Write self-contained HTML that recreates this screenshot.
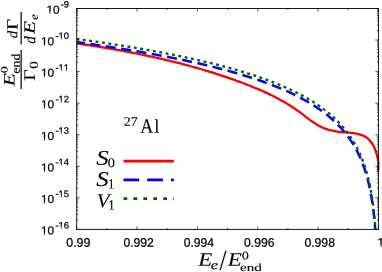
<!DOCTYPE html>
<html><head><meta charset="utf-8"><title>plot</title>
<style>
html,body{margin:0;padding:0;background:#fff;}
body{width:382px;height:272px;overflow:hidden;}
svg{display:block;}
text{font-size:50px;fill:#000;vector-effect:non-scaling-stroke;}
.sa{font-family:"Liberation Sans",sans-serif;font-kerning:none;stroke:#000;stroke-width:0.25;}
.se{font-family:"Liberation Serif",serif;stroke:#000;stroke-width:0.12;}
.it{font-style:italic;}
</style></head><body>
<svg width="382" height="272" viewBox="0 0 382 272">
<defs><filter id="bl" x="0" y="0" width="382" height="272" filterUnits="userSpaceOnUse"><feGaussianBlur stdDeviation="0.4"/></filter></defs>
<rect width="382" height="272" fill="#fff"/>
<g filter="url(#bl)">
<rect width="382" height="272" fill="#fff"/>
<g fill="none" stroke-linejoin="round">
<path d="M76.9,43.4 L78.5,43.6 L80.1,43.8 L81.6,44.1 L83.2,44.3 L84.7,44.5 L86.3,44.8 L87.8,45.0 L89.4,45.2 L91.0,45.5 L92.5,45.7 L94.1,46.0 L95.6,46.2 L97.2,46.5 L98.8,46.7 L100.3,47.0 L101.9,47.2 L103.4,47.5 L105.0,47.7 L106.5,48.0 L108.1,48.3 L109.7,48.5 L111.2,48.8 L112.8,49.1 L114.3,49.3 L115.9,49.6 L117.4,49.9 L119.0,50.2 L120.6,50.5 L122.1,50.7 L123.7,51.0 L125.2,51.3 L126.8,51.6 L128.3,51.9 L129.9,52.2 L131.4,52.5 L133.0,52.8 L134.5,53.1 L136.1,53.4 L137.7,53.7 L139.2,54.0 L140.8,54.4 L142.3,54.7 L143.9,55.0 L145.4,55.3 L147.0,55.6 L148.5,56.0 L150.1,56.3 L151.6,56.6 L153.1,57.0 L154.7,57.3 L156.2,57.7 L157.8,58.0 L159.3,58.4 L160.9,58.7 L162.4,59.1 L164.0,59.4 L165.5,59.8 L167.0,60.2 L168.6,60.5 L170.1,60.9 L171.6,61.3 L173.2,61.7 L174.7,62.0 L176.3,62.4 L177.8,62.8 L179.3,63.2 L180.9,63.6 L182.4,64.0 L183.9,64.4 L185.4,64.8 L187.0,65.2 L188.5,65.6 L190.0,66.0 L191.6,66.5 L193.1,66.9 L194.6,67.3 L196.1,67.7 L197.6,68.2 L199.2,68.6 L200.7,69.0 L202.2,69.5 L203.7,69.9 L205.2,70.4 L206.7,70.8 L208.3,71.3 L209.8,71.8 L211.3,72.2 L212.8,72.7 L214.3,73.2 L215.8,73.7 L217.3,74.1 L218.8,74.6 L220.3,75.1 L221.8,75.6 L223.3,76.1 L224.8,76.6 L226.3,77.1 L227.8,77.6 L229.3,78.1 L230.8,78.7 L232.3,79.2 L233.8,79.7 L235.2,80.2 L236.7,80.8 L238.2,81.3 L239.7,81.9 L241.2,82.4 L242.7,83.0 L244.1,83.5 L245.6,84.1 L247.1,84.6 L248.5,85.2 L250.0,85.8 L251.5,86.4 L252.9,87.0 L254.4,87.6 L255.9,88.2 L257.3,88.8 L258.8,89.4 L260.2,90.0 L261.7,90.7 L263.1,91.3 L264.5,91.9 L266.0,92.6 L267.4,93.3 L268.8,93.9 L270.2,94.6 L271.7,95.3 L273.1,96.0 L274.5,96.7 L275.9,97.4 L277.3,98.2 L278.7,98.9 L280.1,99.7 L281.4,100.4 L282.8,101.2 L284.2,102.0 L285.5,102.8 L286.9,103.6 L288.3,104.4 L289.6,105.3 L290.9,106.1 L292.3,107.0 L293.6,107.9 L294.9,108.7 L296.2,109.7 L297.5,110.6 L298.8,111.5 L300.1,112.4 L301.4,113.4 L302.7,114.4 L304.0,115.4 L305.2,116.3 L306.5,117.3 L307.8,118.3 L309.1,119.3 L310.3,120.2 L311.6,121.1 L312.9,122.0 L314.2,122.9 L315.6,123.8 L316.9,124.6 L318.3,125.4 L319.6,126.1 L321.0,126.8 L322.4,127.5 L323.9,128.1 L325.3,128.6 L326.8,129.1 L328.3,129.6 L329.8,130.0 L331.3,130.4 L332.9,130.7 L334.4,131.0 L336.0,131.3 L337.6,131.6 L339.2,131.8 L340.8,132.0 L342.4,132.1 L344.0,132.3 L345.6,132.4 L347.2,132.5 L348.8,132.7 L350.4,132.8 L352.0,133.0 L353.6,133.2 L355.1,133.4 L356.6,133.6 L358.1,134.0 L359.6,134.3 L361.0,134.8 L362.4,135.3 L363.7,135.9 L365.0,136.5 L366.2,137.3 L367.4,138.2 L368.5,139.2 L369.6,140.2 L370.6,141.4 L371.5,142.7 L372.4,144.0 L373.2,145.4 L374.0,146.8 L374.7,148.3 L375.3,149.9 L375.9,151.5 L376.4,153.1 L376.9,154.7 L377.3,156.4 L377.6,158.0 L377.9,159.7 L378.1,161.3 L378.3,162.9 L378.3,164.5 L378.3,166.0 L378.3,167.5 L378.3,169.0 L378.1,170.4 L377.9,171.7" stroke="#ff0000" stroke-width="2.3"/>
<path d="M77.00,42.19 L79.13,42.48 L81.25,42.78 L83.38,43.07 L85.50,43.37 L87.63,43.67 L89.76,43.97 L91.88,44.27 L94.01,44.58 L96.13,44.89 L98.26,45.20 L100.39,45.51 L102.51,45.83 L104.64,46.15 L106.76,46.47 L108.89,46.79 L111.02,47.11 L113.14,47.44 L115.27,47.77 L117.39,48.11 L119.52,48.44 L121.65,48.78 L123.77,49.12 L125.90,49.47 L128.03,49.82 L130.15,50.17 L132.28,50.52 L134.40,50.88 L136.53,51.24 L138.66,51.60 L140.78,51.97 L142.91,52.34 L145.03,52.71 L147.16,53.09 L149.29,53.47 L151.41,53.85 L153.54,54.24 L155.66,54.63 L157.79,55.02 L159.92,55.42 L162.04,55.82 L164.17,56.23 L166.29,56.64 L168.42,57.05 L170.55,57.47 L172.67,57.89 L174.80,58.32 L176.92,58.75 L179.05,59.19 L181.18,59.63 L183.30,60.07 L185.43,60.52 L187.55,60.98 L189.68,61.44 L191.81,61.91 L193.93,62.38 L196.06,62.85 L198.18,63.34 L200.31,63.82 L202.44,64.32 L204.56,64.82 L206.69,65.32 L208.82,65.84 L210.94,66.35 L213.07,66.88 L215.19,67.41 L217.32,67.95 L219.45,68.50 L221.57,69.05 L223.70,69.61 L225.82,70.18 L227.95,70.76 L230.08,71.34 L232.20,71.94 L234.33,72.54 L236.45,73.15 L238.58,73.77 L240.71,74.40 L242.83,75.04 L244.96,75.69 L247.08,76.35 L249.21,77.02 L251.34,77.70 L253.46,78.40 L255.59,79.10 L257.71,79.82 L259.84,80.55 L261.97,81.30 L264.09,82.05 L266.22,82.83 L268.34,83.61 L270.47,84.41 L272.60,85.23 L274.72,86.07 L276.85,86.92 L278.97,87.79 L281.10,88.68 L283.23,89.59 L285.35,90.52 L287.48,91.47 L289.61,92.44 L291.73,93.43 L293.86,94.46 L295.98,95.50 L298.11,96.58 L300.24,97.68 L302.36,98.81 L304.49,99.98 L306.61,101.18 L308.74,102.42 L310.87,103.69 L312.99,105.01 L315.12,106.36 L317.24,107.77 L319.37,109.22 L321.50,110.73 L323.62,112.30 L325.75,113.93 L327.87,115.62 L330.00,117.39 L330.50,117.82 L330.67,117.96 L330.85,118.11 L331.02,118.26 L331.19,118.41 L331.37,118.57 L331.54,118.72 L331.71,118.87 L331.89,119.02 L332.06,119.18 L332.23,119.33 L332.41,119.48 L332.58,119.64 L332.75,119.80 L332.93,119.95 L333.10,120.11 L333.27,120.27 L333.45,120.42 L333.62,120.58 L333.79,120.74 L333.97,120.90 L334.14,121.06 L334.31,121.23 L334.49,121.39 L334.66,121.55 L334.83,121.71 L335.01,121.88 L335.18,122.04 L335.35,122.21 L335.53,122.37 L335.70,122.54 L335.87,122.71 L336.05,122.87 L336.22,123.04 L336.39,123.21 L336.57,123.38 L336.74,123.55 L336.91,123.72 L337.09,123.90 L337.26,124.07 L337.43,124.24 L337.61,124.42 L337.78,124.59 L337.95,124.77 L338.12,124.94 L338.30,125.12 L338.47,125.30 L338.64,125.48 L338.82,125.66 L338.99,125.84 L339.16,126.02 L339.34,126.20 L339.51,126.38 L339.68,126.57 L339.86,126.75 L340.03,126.94 L340.20,127.12 L340.38,127.31 L340.55,127.50 L340.72,127.69 L340.90,127.88 L341.07,128.07 L341.24,128.26 L341.42,128.45 L341.59,128.64 L341.76,128.84 L341.94,129.03 L342.11,129.23 L342.28,129.43 L342.46,129.62 L342.63,129.82 L342.80,130.02 L342.98,130.22 L343.15,130.42 L343.32,130.63 L343.50,130.83 L343.67,131.03 L343.84,131.24 L344.02,131.45 L344.19,131.65 L344.36,131.86 L344.54,132.07 L344.71,132.28 L344.88,132.50 L345.06,132.71 L345.23,132.92 L345.40,133.14 L345.58,133.36 L345.75,133.57 L345.92,133.79 L346.10,134.01 L346.27,134.23 L346.44,134.46 L346.62,134.68 L346.79,134.90 L346.96,135.13 L347.14,135.36 L347.31,135.59 L347.48,135.82 L347.66,136.05 L347.83,136.28 L348.00,136.51 L348.18,136.75 L348.35,136.98 L348.52,137.22 L348.70,137.46 L348.87,137.70 L349.04,137.94 L349.22,138.19 L349.39,138.43 L349.56,138.68 L349.74,138.93 L349.91,139.18 L350.08,139.43 L350.26,139.68 L350.43,139.93 L350.60,140.19 L350.78,140.45 L350.95,140.70 L351.12,140.96 L351.30,141.23 L351.47,141.49 L351.64,141.76 L351.82,142.02 L351.99,142.29 L352.16,142.56 L352.33,142.83 L352.51,143.11 L352.68,143.39 L352.85,143.66 L353.03,143.94 L353.20,144.22 L353.37,144.51 L353.55,144.79 L353.72,145.08 L353.89,145.37 L354.07,145.66 L354.24,145.96 L354.41,146.25 L354.59,146.55 L354.76,146.85 L354.93,147.15 L355.11,147.46 L355.28,147.77 L355.45,148.08 L355.63,148.39 L355.80,148.70 L355.97,149.02 L356.15,149.34 L356.32,149.66 L356.49,149.98 L356.67,150.31 L356.84,150.64 L357.01,150.97 L357.19,151.30 L357.36,151.64 L357.53,151.98 L357.71,152.32 L357.88,152.67 L358.05,153.02 L358.23,153.37 L358.40,153.73 L358.57,154.08 L358.75,154.44 L358.92,154.81 L359.09,155.18 L359.27,155.55 L359.44,155.92 L359.61,156.30 L359.79,156.68 L359.96,157.06 L360.13,157.45 L360.31,157.84 L360.48,158.24 L360.65,158.64 L360.83,159.04 L361.00,159.45 L361.17,159.86 L361.35,160.28 L361.52,160.70 L361.69,161.12 L361.87,161.55 L362.04,161.98 L362.21,162.42 L362.39,162.86 L362.56,163.31 L362.73,163.76 L362.91,164.22 L363.08,164.68 L363.25,165.15 L363.43,165.62 L363.60,166.10 L363.77,166.59 L363.95,167.08 L364.12,167.57 L364.29,168.07 L364.47,168.58 L364.64,169.10 L364.81,169.62 L364.99,170.15 L365.16,170.68 L365.33,171.22 L365.51,171.77 L365.68,172.33 L365.85,172.89 L366.03,173.46 L366.20,174.04 L366.37,174.63 L366.55,175.23 L366.72,175.83 L366.89,176.45 L367.06,177.07 L367.24,177.70 L367.41,178.35 L367.58,179.00 L367.76,179.67 L367.93,180.34 L368.10,181.03 L368.28,181.72 L368.45,182.43 L368.62,183.16 L368.80,183.89 L368.97,184.64 L369.14,185.40 L369.32,186.18 L369.49,186.97 L369.66,187.78 L369.84,188.60 L370.01,189.45 L370.18,190.30 L370.36,191.18 L370.53,192.08 L370.70,192.99 L370.88,193.93 L371.05,194.89 L371.22,195.87 L371.40,196.87 L371.57,197.90 L371.74,198.96 L371.92,200.04 L372.09,201.16 L372.26,202.30 L372.44,203.48 L372.61,204.69 L372.78,205.94 L372.96,207.23 L373.13,208.56 L373.30,209.94 L373.48,211.36 L373.65,212.83 L373.82,214.36 L374.00,215.95 L374.17,217.60 L374.34,219.32 L374.52,221.11 L374.69,222.99 L374.86,224.96 L375.04,227.02 L375.19,229.00" stroke="#0000ff" stroke-width="2.5" stroke-dasharray="10.05 5.48" stroke-dashoffset="2"/>
<path d="M77.00,38.99 L79.13,39.28 L81.25,39.58 L83.38,39.87 L85.50,40.17 L87.63,40.47 L89.76,40.77 L91.88,41.07 L94.01,41.38 L96.13,41.69 L98.26,42.00 L100.39,42.31 L102.51,42.63 L104.64,42.95 L106.76,43.27 L108.89,43.59 L111.02,43.91 L113.14,44.24 L115.27,44.57 L117.39,44.91 L119.52,45.24 L121.65,45.58 L123.77,45.92 L125.90,46.27 L128.03,46.62 L130.15,46.97 L132.28,47.32 L134.40,47.68 L136.53,48.04 L138.66,48.40 L140.78,48.77 L142.91,49.14 L145.03,49.51 L147.16,49.89 L149.29,50.27 L151.41,50.65 L153.54,51.04 L155.66,51.43 L157.79,51.82 L159.92,52.22 L162.04,52.62 L164.17,53.03 L166.29,53.44 L168.42,53.85 L170.55,54.27 L172.67,54.69 L174.80,55.12 L176.92,55.55 L179.05,55.99 L181.18,56.43 L183.30,56.87 L185.43,57.32 L187.55,57.78 L189.68,58.24 L191.81,58.71 L193.93,59.18 L196.06,59.65 L198.18,60.14 L200.31,60.62 L202.44,61.12 L204.56,61.62 L206.69,62.12 L208.82,62.64 L210.94,63.15 L213.07,63.68 L215.19,64.21 L217.32,64.75 L219.45,65.30 L221.57,65.85 L223.70,66.41 L225.82,66.98 L227.95,67.56 L230.08,68.14 L232.20,68.74 L234.33,69.34 L236.45,69.95 L238.58,70.57 L240.71,71.20 L242.83,71.84 L244.96,72.49 L247.08,73.15 L249.21,73.82 L251.34,74.50 L253.46,75.20 L255.59,75.90 L257.71,76.62 L259.84,77.35 L261.97,78.10 L264.09,78.85 L266.22,79.63 L268.34,80.41 L270.47,81.21 L272.60,82.03 L274.72,82.87 L276.85,83.72 L278.97,84.59 L281.10,85.48 L283.23,86.39 L285.35,87.32 L287.48,88.27 L289.61,89.24 L291.73,90.23 L293.86,91.26 L295.98,92.30 L298.11,93.38 L300.24,94.48 L302.36,95.61 L304.49,96.78 L306.61,97.98 L308.74,99.22 L310.87,100.49 L312.99,101.81 L315.12,103.16 L317.24,104.57 L319.37,106.02 L321.50,107.53 L323.62,109.10 L325.75,110.73 L327.87,112.42 L330.00,114.19 L330.50,114.62 L330.67,114.76 L330.85,114.91 L331.02,115.06 L331.19,115.21 L331.37,115.37 L331.54,115.52 L331.71,115.67 L331.89,115.82 L332.06,115.98 L332.23,116.13 L332.41,116.28 L332.58,116.44 L332.75,116.60 L332.93,116.75 L333.10,116.91 L333.27,117.07 L333.45,117.22 L333.62,117.38 L333.79,117.54 L333.97,117.70 L334.14,117.86 L334.31,118.03 L334.49,118.19 L334.66,118.35 L334.83,118.51 L335.01,118.68 L335.18,118.84 L335.35,119.01 L335.53,119.17 L335.70,119.34 L335.87,119.51 L336.05,119.67 L336.22,119.84 L336.39,120.01 L336.57,120.18 L336.74,120.35 L336.91,120.52 L337.09,120.70 L337.26,120.87 L337.43,121.04 L337.61,121.22 L337.78,121.39 L337.95,121.57 L338.12,121.74 L338.30,121.92 L338.47,122.10 L338.64,122.28 L338.82,122.46 L338.99,122.64 L339.16,122.82 L339.34,123.00 L339.51,123.18 L339.68,123.37 L339.86,123.55 L340.03,123.74 L340.20,123.92 L340.38,124.11 L340.55,124.30 L340.72,124.49 L340.90,124.68 L341.07,124.87 L341.24,125.06 L341.42,125.25 L341.59,125.44 L341.76,125.64 L341.94,125.83 L342.11,126.03 L342.28,126.23 L342.46,126.42 L342.63,126.62 L342.80,126.82 L342.98,127.02 L343.15,127.22 L343.32,127.43 L343.50,127.63 L343.67,127.83 L343.84,128.04 L344.02,128.25 L344.19,128.45 L344.36,128.66 L344.54,128.87 L344.71,129.08 L344.88,129.30 L345.06,129.51 L345.23,129.72 L345.40,129.94 L345.58,130.16 L345.75,130.37 L345.92,130.59 L346.10,130.81 L346.27,131.03 L346.44,131.26 L346.62,131.48 L346.79,131.70 L346.96,131.93 L347.14,132.16 L347.31,132.39 L347.48,132.62 L347.66,132.85 L347.83,133.08 L348.00,133.31 L348.18,133.55 L348.35,133.78 L348.52,134.02 L348.70,134.26 L348.87,134.50 L349.04,134.74 L349.22,134.99 L349.39,135.23 L349.56,135.48 L349.74,135.73 L349.91,135.98 L350.08,136.23 L350.26,136.48 L350.43,136.73 L350.60,136.99 L350.78,137.25 L350.95,137.50 L351.12,137.76 L351.30,138.03 L351.47,138.29 L351.64,138.56 L351.82,138.82 L351.99,139.09 L352.16,139.36 L352.33,139.63 L352.51,139.91 L352.68,140.19 L352.85,140.46 L353.03,140.74 L353.20,141.02 L353.37,141.31 L353.55,141.59 L353.72,141.88 L353.89,142.17 L354.07,142.46 L354.24,142.76 L354.41,143.05 L354.59,143.35 L354.76,143.65 L354.93,143.95 L355.11,144.26 L355.28,144.57 L355.45,144.88 L355.63,145.19 L355.80,145.50 L355.97,145.82 L356.15,146.14 L356.32,146.46 L356.49,146.78 L356.67,147.11 L356.84,147.44 L357.01,147.77 L357.19,148.10 L357.36,148.44 L357.53,148.78 L357.71,149.12 L357.88,149.47 L358.05,149.82 L358.23,150.17 L358.40,150.53 L358.57,150.88 L358.75,151.24 L358.92,151.61 L359.09,151.98 L359.27,152.35 L359.44,152.72 L359.61,153.10 L359.79,153.48 L359.96,153.86 L360.13,154.25 L360.31,154.64 L360.48,155.04 L360.65,155.44 L360.83,155.84 L361.00,156.25 L361.17,156.66 L361.35,157.08 L361.52,157.50 L361.69,157.92 L361.87,158.35 L362.04,158.78 L362.21,159.22 L362.39,159.66 L362.56,160.11 L362.73,160.56 L362.91,161.02 L363.08,161.48 L363.25,161.95 L363.43,162.42 L363.60,162.90 L363.77,163.39 L363.95,163.88 L364.12,164.37 L364.29,164.87 L364.47,165.38 L364.64,165.90 L364.81,166.42 L364.99,166.95 L365.16,167.48 L365.33,168.02 L365.51,168.57 L365.68,169.13 L365.85,169.69 L366.03,170.26 L366.20,170.84 L366.37,171.43 L366.55,172.03 L366.72,172.63 L366.89,173.25 L367.06,173.87 L367.24,174.50 L367.41,175.15 L367.58,175.80 L367.76,176.47 L367.93,177.14 L368.10,177.83 L368.28,178.52 L368.45,179.23 L368.62,179.96 L368.80,180.69 L368.97,181.44 L369.14,182.20 L369.32,182.98 L369.49,183.77 L369.66,184.58 L369.84,185.40 L370.01,186.25 L370.18,187.10 L370.36,187.98 L370.53,188.88 L370.70,189.79 L370.88,190.73 L371.05,191.69 L371.22,192.67 L371.40,193.67 L371.57,194.70 L371.74,195.76 L371.92,196.84 L372.09,197.96 L372.26,199.10 L372.44,200.28 L372.61,201.49 L372.78,202.74 L372.96,204.03 L373.13,205.36 L373.30,206.74 L373.48,208.16 L373.65,209.63 L373.82,211.16 L374.00,212.75 L374.17,214.40 L374.34,216.12 L374.52,217.91 L374.69,219.79 L374.86,221.76 L375.04,223.82 L375.21,226.00 L375.38,228.29 L375.43,229.00" stroke="#006400" stroke-width="2.35" stroke-dasharray="2.9 3.56" stroke-dashoffset="0.65"/>
</g>
<rect x="76.7" y="8.5" width="301.7" height="220.9" fill="none" stroke="#000" stroke-width="0.9"/>
<path d="M76.70,8.50L79.70,8.50 M378.40,8.50L375.40,8.50 M76.70,30.56L78.20,30.56 M378.40,30.56L376.90,30.56 M76.70,25.00L78.20,25.00 M378.40,25.00L376.90,25.00 M76.70,21.06L78.20,21.06 M378.40,21.06L376.90,21.06 M76.70,18.00L78.20,18.00 M378.40,18.00L376.90,18.00 M76.70,15.50L78.20,15.50 M378.40,15.50L376.90,15.50 M76.70,13.39L78.20,13.39 M378.40,13.39L376.90,13.39 M76.70,11.56L78.20,11.56 M378.40,11.56L376.90,11.56 M76.70,9.94L78.20,9.94 M378.40,9.94L376.90,9.94 M76.70,40.06L79.70,40.06 M378.40,40.06L375.40,40.06 M76.70,62.11L78.20,62.11 M378.40,62.11L376.90,62.11 M76.70,56.56L78.20,56.56 M378.40,56.56L376.90,56.56 M76.70,52.61L78.20,52.61 M378.40,52.61L376.90,52.61 M76.70,49.56L78.20,49.56 M378.40,49.56L376.90,49.56 M76.70,47.06L78.20,47.06 M378.40,47.06L376.90,47.06 M76.70,44.95L78.20,44.95 M378.40,44.95L376.90,44.95 M76.70,43.12L78.20,43.12 M378.40,43.12L376.90,43.12 M76.70,41.50L78.20,41.50 M378.40,41.50L376.90,41.50 M76.70,71.61L79.70,71.61 M378.40,71.61L375.40,71.61 M76.70,93.67L78.20,93.67 M378.40,93.67L376.90,93.67 M76.70,88.11L78.20,88.11 M378.40,88.11L376.90,88.11 M76.70,84.17L78.20,84.17 M378.40,84.17L376.90,84.17 M76.70,81.11L78.20,81.11 M378.40,81.11L376.90,81.11 M76.70,78.62L78.20,78.62 M378.40,78.62L376.90,78.62 M76.70,76.50L78.20,76.50 M378.40,76.50L376.90,76.50 M76.70,74.67L78.20,74.67 M378.40,74.67L376.90,74.67 M76.70,73.06L78.20,73.06 M378.40,73.06L376.90,73.06 M76.70,103.17L79.70,103.17 M378.40,103.17L375.40,103.17 M76.70,125.23L78.20,125.23 M378.40,125.23L376.90,125.23 M76.70,119.67L78.20,119.67 M378.40,119.67L376.90,119.67 M76.70,115.73L78.20,115.73 M378.40,115.73L376.90,115.73 M76.70,112.67L78.20,112.67 M378.40,112.67L376.90,112.67 M76.70,110.17L78.20,110.17 M378.40,110.17L376.90,110.17 M76.70,108.06L78.20,108.06 M378.40,108.06L376.90,108.06 M76.70,106.23L78.20,106.23 M378.40,106.23L376.90,106.23 M76.70,104.62L78.20,104.62 M378.40,104.62L376.90,104.62 M76.70,134.73L79.70,134.73 M378.40,134.73L375.40,134.73 M76.70,156.79L78.20,156.79 M378.40,156.79L376.90,156.79 M76.70,151.23L78.20,151.23 M378.40,151.23L376.90,151.23 M76.70,147.29L78.20,147.29 M378.40,147.29L376.90,147.29 M76.70,144.23L78.20,144.23 M378.40,144.23L376.90,144.23 M76.70,141.73L78.20,141.73 M378.40,141.73L376.90,141.73 M76.70,139.62L78.20,139.62 M378.40,139.62L376.90,139.62 M76.70,137.79L78.20,137.79 M378.40,137.79L376.90,137.79 M76.70,136.17L78.20,136.17 M378.40,136.17L376.90,136.17 M76.70,166.29L79.70,166.29 M378.40,166.29L375.40,166.29 M76.70,188.34L78.20,188.34 M378.40,188.34L376.90,188.34 M76.70,182.79L78.20,182.79 M378.40,182.79L376.90,182.79 M76.70,178.84L78.20,178.84 M378.40,178.84L376.90,178.84 M76.70,175.79L78.20,175.79 M378.40,175.79L376.90,175.79 M76.70,173.29L78.20,173.29 M378.40,173.29L376.90,173.29 M76.70,171.17L78.20,171.17 M378.40,171.17L376.90,171.17 M76.70,169.34L78.20,169.34 M378.40,169.34L376.90,169.34 M76.70,167.73L78.20,167.73 M378.40,167.73L376.90,167.73 M76.70,197.84L79.70,197.84 M378.40,197.84L375.40,197.84 M76.70,219.90L78.20,219.90 M378.40,219.90L376.90,219.90 M76.70,214.34L78.20,214.34 M378.40,214.34L376.90,214.34 M76.70,210.40L78.20,210.40 M378.40,210.40L376.90,210.40 M76.70,207.34L78.20,207.34 M378.40,207.34L376.90,207.34 M76.70,204.84L78.20,204.84 M378.40,204.84L376.90,204.84 M76.70,202.73L78.20,202.73 M378.40,202.73L376.90,202.73 M76.70,200.90L78.20,200.90 M378.40,200.90L376.90,200.90 M76.70,199.29L78.20,199.29 M378.40,199.29L376.90,199.29 M76.70,229.40L79.70,229.40 M378.40,229.40L375.40,229.40 M76.70,229.40L76.70,226.40 M76.70,8.50L76.70,11.50 M106.87,229.40L106.87,227.90 M106.87,8.50L106.87,10.00 M137.04,229.40L137.04,226.40 M137.04,8.50L137.04,11.50 M167.21,229.40L167.21,227.90 M167.21,8.50L167.21,10.00 M197.38,229.40L197.38,226.40 M197.38,8.50L197.38,11.50 M227.55,229.40L227.55,227.90 M227.55,8.50L227.55,10.00 M257.72,229.40L257.72,226.40 M257.72,8.50L257.72,11.50 M287.89,229.40L287.89,227.90 M287.89,8.50L287.89,10.00 M318.06,229.40L318.06,226.40 M318.06,8.50L318.06,11.50 M348.23,229.40L348.23,227.90 M348.23,8.50L348.23,10.00 M378.40,229.40L378.40,226.40 M378.40,8.50L378.40,11.50" stroke="#000" stroke-width="0.65" fill="none"/>
<!-- legend samples -->
<path d="M123.5,161.1H173.8" stroke="#ff0000" stroke-width="2.6"/>
<path d="M123.5,179.9H173.8" stroke="#0000ff" stroke-width="2.8" stroke-dasharray="15.7 8"/>
<path d="M123.5,198.6H173.8" stroke="#006400" stroke-width="2.7" stroke-dasharray="3.8 6.13"/>
<!-- fraction bars of y label -->
<path d="M21.15,88.9V50.0M21.15,44.6V11.9" stroke="#000" stroke-width="1.2"/>
<g>
<text transform="matrix(0.2787,0.0004,0,0.2576,123.69,125.75)" class="se" stroke-width="0.3">27</text>
<text transform="matrix(0.3611,0.0004,0,0.4061,140.30,132.80)" class="se" stroke-width="0.2">A</text>
<text transform="matrix(0.3417,0.0004,0,0.3914,154.56,132.80)" class="se" stroke-width="0.2">l</text>
<text transform="matrix(0.4957,0.0004,0,0.4182,96.15,164.75)" class="se it" stroke="#fff" stroke-width="0.3">S</text>
<text transform="matrix(0.2881,0.0004,0,0.2652,107.85,167.07)" class="se" stroke-width="0.05">0</text>
<text transform="matrix(0.4957,0.0004,0,0.4212,96.15,185.95)" class="se it" stroke="#fff" stroke-width="0.3">S</text>
<text transform="matrix(0.2417,0.0004,0,0.2773,108.26,188.57)" class="se" stroke-width="0.05">1</text>
<text transform="matrix(0.4156,0.0004,0,0.3971,96.80,207.15)" class="se it" stroke="#fff" stroke-width="0.3">V</text>
<text transform="matrix(0.2583,0.0004,0,0.2833,108.19,209.57)" class="se" stroke-width="0.05">1</text>
<text transform="matrix(0.4600,0.0004,0,0.3818,198.15,265.85)" class="se it" stroke="#fff" stroke-width="0.3">E</text>
<text transform="matrix(0.3263,0.0004,0,0.2522,210.65,268.90)" class="se it" stroke="#fff" stroke-width="0.2">e</text>
<text transform="matrix(0.5071,0.0004,0,0.5853,219.40,270.01)" class="se" stroke-width="0">/</text>
<text transform="matrix(0.4600,0.0004,0,0.3818,227.75,265.85)" class="se it" stroke="#fff" stroke-width="0.3">E</text>
<text transform="matrix(0.2857,0.0004,0,0.2364,241.73,259.50)" class="se" stroke-width="0">0</text>
<text transform="matrix(0.3031,0.0004,0,0.2177,239.93,270.96)" class="se" stroke="#fff" stroke-width="0.12">end</text>
<text transform="rotate(-90) matrix(0.4293,0.0004,0,0.3206,-86.14,14.44)" class="se it">E</text>
<text transform="rotate(-90) matrix(0.2848,0.0004,0,0.2024,-73.31,7.54)" class="se">0</text>
<text transform="rotate(-90) matrix(0.2783,0.0004,0,0.2394,-73.70,19.84)" class="se">end</text>
<text transform="rotate(-90) matrix(0.3954,0.0004,0,0.3236,-80.74,35.04)" class="se">Γ</text>
<text transform="rotate(-90) matrix(0.3038,0.0004,0,0.2418,-68.75,37.64)" class="se">0</text>
<text transform="rotate(-90) matrix(0.2948,0.0004,0,0.2880,-38.13,17.14)" class="se it">d</text>
<text transform="rotate(-90) matrix(0.3762,0.0004,0,0.3145,-29.72,17.44)" class="se">Γ</text>
<text transform="rotate(-90) matrix(0.2948,0.0004,0,0.3194,-43.63,35.34)" class="se it">d</text>
<text transform="rotate(-90) matrix(0.4293,0.0004,0,0.3176,-34.04,34.64)" class="se it">E</text>
<text transform="rotate(-90) matrix(0.2726,0.0004,0,0.2252,-20.09,37.84)" class="se it">e</text>
<text transform="matrix(0.2368,0.0004,0,0.2329,46.39,13.67)" class="sa">10</text><rect x="46.62" y="11.80" width="2.78" height="2.62" fill="#fff"/><rect x="50.38" y="11.80" width="2.89" height="2.62" fill="#fff"/>
<text transform="matrix(0.2368,0.0004,0,0.2329,40.99,45.23)" class="sa">10</text><rect x="41.22" y="43.36" width="2.78" height="2.62" fill="#fff"/><rect x="44.98" y="43.36" width="2.89" height="2.62" fill="#fff"/>
<text transform="matrix(0.2368,0.0004,0,0.2329,40.99,76.79)" class="sa">10</text><rect x="41.22" y="74.91" width="2.78" height="2.62" fill="#fff"/><rect x="44.98" y="74.91" width="2.89" height="2.62" fill="#fff"/>
<text transform="matrix(0.2368,0.0004,0,0.2329,40.99,108.35)" class="sa">10</text><rect x="41.22" y="106.47" width="2.78" height="2.62" fill="#fff"/><rect x="44.98" y="106.47" width="2.89" height="2.62" fill="#fff"/>
<text transform="matrix(0.2368,0.0004,0,0.2329,40.99,139.90)" class="sa">10</text><rect x="41.22" y="138.03" width="2.78" height="2.62" fill="#fff"/><rect x="44.98" y="138.03" width="2.89" height="2.62" fill="#fff"/>
<text transform="matrix(0.2368,0.0004,0,0.2329,40.99,171.46)" class="sa">10</text><rect x="41.22" y="169.58" width="2.78" height="2.62" fill="#fff"/><rect x="44.98" y="169.58" width="2.89" height="2.62" fill="#fff"/>
<text transform="matrix(0.2368,0.0004,0,0.2329,40.99,203.02)" class="sa">10</text><rect x="41.22" y="201.14" width="2.78" height="2.62" fill="#fff"/><rect x="44.98" y="201.14" width="2.89" height="2.62" fill="#fff"/>
<text transform="matrix(0.2368,0.0004,0,0.2329,40.99,234.57)" class="sa">10</text><rect x="41.22" y="232.70" width="2.78" height="2.62" fill="#fff"/><rect x="44.98" y="232.70" width="2.89" height="2.62" fill="#fff"/>
<text transform="matrix(0.2489,0.0004,0,0.2500,66.23,246.78)" class="sa">0.99</text>
<text transform="matrix(0.2442,0.0004,0,0.2500,123.38,246.78)" class="sa">0.992</text>
<text transform="matrix(0.2422,0.0004,0,0.2500,183.72,246.78)" class="sa">0.994</text>
<text transform="matrix(0.2442,0.0004,0,0.2500,244.06,246.78)" class="sa">0.996</text>
<text transform="matrix(0.2442,0.0004,0,0.2500,304.40,246.78)" class="sa">0.998</text>
<text transform="matrix(0.2586,0.0004,0,0.2500,377.28,246.78)" class="sa">1</text><rect x="377.53" y="244.76" width="3.03" height="2.81" fill="#fff"/><rect x="381.64" y="244.76" width="3.16" height="2.81" fill="#fff"/>
<text transform="matrix(0.1887,0.0004,0,0.1857,60.65,7.53)" class="sa">-9</text>
<text transform="matrix(0.1887,0.0004,0,0.1857,55.40,39.08)" class="sa">-10</text><rect x="58.73" y="37.59" width="2.21" height="2.09" fill="#fff"/><rect x="61.72" y="37.59" width="2.30" height="2.09" fill="#fff"/>
<text transform="matrix(0.1887,0.0004,0,0.1857,55.40,70.64)" class="sa">-11</text><rect x="58.73" y="69.14" width="2.21" height="2.09" fill="#fff"/><rect x="61.72" y="69.14" width="2.30" height="2.09" fill="#fff"/><rect x="63.98" y="69.14" width="2.21" height="2.09" fill="#fff"/><rect x="66.97" y="69.14" width="2.30" height="2.09" fill="#fff"/>
<text transform="matrix(0.1887,0.0004,0,0.1857,55.40,102.20)" class="sa">-12</text><rect x="58.73" y="100.70" width="2.21" height="2.09" fill="#fff"/><rect x="61.72" y="100.70" width="2.30" height="2.09" fill="#fff"/>
<text transform="matrix(0.1887,0.0004,0,0.1857,55.40,133.75)" class="sa">-13</text><rect x="58.73" y="132.26" width="2.21" height="2.09" fill="#fff"/><rect x="61.72" y="132.26" width="2.30" height="2.09" fill="#fff"/>
<text transform="matrix(0.1887,0.0004,0,0.1857,55.40,165.31)" class="sa">-14</text><rect x="58.73" y="163.81" width="2.21" height="2.09" fill="#fff"/><rect x="61.72" y="163.81" width="2.30" height="2.09" fill="#fff"/>
<text transform="matrix(0.1887,0.0004,0,0.1857,55.40,196.87)" class="sa">-15</text><rect x="58.73" y="195.37" width="2.21" height="2.09" fill="#fff"/><rect x="61.72" y="195.37" width="2.30" height="2.09" fill="#fff"/>
<text transform="matrix(0.1887,0.0004,0,0.1857,55.40,228.43)" class="sa">-16</text><rect x="58.73" y="226.93" width="2.21" height="2.09" fill="#fff"/><rect x="61.72" y="226.93" width="2.30" height="2.09" fill="#fff"/>
</g>
</g>
</svg>
</body></html>
